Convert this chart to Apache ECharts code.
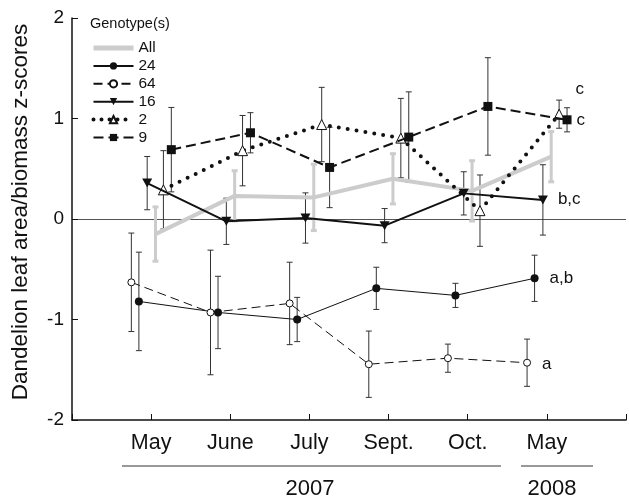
<!DOCTYPE html>
<html>
<head>
<meta charset="utf-8">
<script src="https://cdn.jsdelivr.net/npm/echarts@6/dist/echarts.min.js"></script>
<style>
html,body{margin:0;padding:0;background:#fff;}
#chart{width:629px;height:502px;}
</style>
</head>
<body>
<div id="chart"></div>
<script>
var months = ['May', 'June', 'July', 'Sept.', 'Oct.', 'May'];
var yTicks = [-2, -1, 0, 1, 2];

// means and standard errors, one value per sampling date
var allMean = [-0.15, 0.23, 0.215, 0.40, 0.28, 0.62];
var allErr  = [0.27, 0.25, 0.33, 0.25, 0.30, 0.25];
var g24Mean = [-0.82, -0.93, -1.0, -0.69, -0.76, -0.59];
var g24Err  = [0.49, 0.36, 0.22, 0.21, 0.12, 0.23];
var g64Mean = [-0.63, -0.93, -0.84, -1.445, -1.385, -1.43];
var g64Err  = [0.49, 0.62, 0.41, 0.33, 0.14, 0.235];
var g16Mean = [0.357, -0.023, 0.01, -0.066, 0.255, 0.19];
var g16Err  = [0.265, 0.23, 0.25, 0.17, 0.215, 0.35];
var g2Mean  = [0.29, 0.68, 0.94, 0.805, 0.083, 1.043];
var g2Err   = [0.39, 0.35, 0.37, 0.395, 0.355, 0.14];
var g9Mean  = [0.69, 0.858, 0.513, 0.815, 1.12, 0.987];
var g9Err   = [0.42, 0.20, 0.40, 0.45, 0.485, 0.12];

// letters of significance groups at the last date
var groupLetters = {All: 'c', '24': 'a,b', '64': 'a', '16': 'b,c', '2': 'c', '9': 'c'};

var myChart = echarts.init(document.getElementById('chart'));
var FONT = 'Liberation Sans, Arial, Helvetica, sans-serif';

//点位置：月份序号 + 水平错开
function points(mean, shift, letter, lbl) {
	var arr = [];
	for (var i = 0; i < mean.length; i++) {
		var item = {value: [i + 1 + shift, mean[i]]};
		if (i == mean.length - 1 && letter) {
			item.label = {
				show: true,
				formatter: letter,
				position: 'right',
				distance: 0,
				offset: lbl,
				color: '#111',
				fontSize: 17,
				fontFamily: FONT
			};
		}
		arr.push(item);
	}
	return arr;
}

function bars(mean, err, shift) {
	var arr = [];
	for (var i = 0; i < mean.length; i++) {
		arr.push([i + 1 + shift, mean[i] - err[i], mean[i] + err[i]]);
	}
	return arr;
}

function errSeries(name, mean, err, shift, color, width, cap) {
	return {
		name: name,
		type: 'custom',
		silent: true,
		z: 1,
		encode: {x: 0, y: [1, 2]},
		data: bars(mean, err, shift),
		renderItem: function(params, api) {
			var lo = api.coord([api.value(0), api.value(1)]);
			var hi = api.coord([api.value(0), api.value(2)]);
			var st = {stroke: color, lineWidth: width};
			return {
				type: 'group',
				children: [
					{type: 'line', shape: {x1: lo[0], y1: lo[1], x2: hi[0], y2: hi[1]}, style: st},
					{type: 'line', shape: {x1: lo[0] - cap, y1: lo[1], x2: lo[0] + cap, y2: lo[1]}, style: st},
					{type: 'line', shape: {x1: hi[0] - cap, y1: hi[1], x2: hi[0] + cap, y2: hi[1]}, style: st}
				]
			};
		}
	};
}

var downTri = 'path://M0,0 L10,0 L5,9 Z';

var option = {
	animation: false,
	backgroundColor: '#fff',
	textStyle: {fontFamily: FONT},
	title: {
		text: 'Genotype(s)',
		left: 85,
		top: 11,
		textStyle: {fontSize: 14.5, fontWeight: 'normal', color: '#111', fontFamily: FONT}
	},
	legend: {
		data: [
			{name: 'All', itemStyle: {opacity: 0}, lineStyle: {width: 5}},
			'24', '64', '16',
			{name: '2', lineStyle: {width: 4, type: [0, 8], cap: 'round'}},
			'9'
		],
		orient: 'vertical',
		left: 86,
		top: 35,
		itemWidth: 40,
		itemHeight: 9,
		itemGap: 1.9,
		textStyle: {fontSize: 15.5, color: '#111', fontFamily: FONT},
		selectedMode: false
	},
	grid: {left: 72, right: -3, top: 18, bottom: 82},
	xAxis: {
		type: 'value',
		min: 0,
		max: 7,
		interval: 1,
		splitLine: {show: false},
		axisLine: {onZero: false, lineStyle: {color: '#111', width: 1.5}},
		axisTick: {inside: true, length: 6, lineStyle: {color: '#111'}},
		axisLabel: {
			fontSize: 21.5,
			color: '#111',
			margin: 12,
			fontFamily: FONT,
			formatter: function(v) {
				return months[v - 1] || '';
			}
		}
	},
	yAxis: [
		{
			type: 'value',
			min: yTicks[0],
			max: yTicks[yTicks.length - 1],
			interval: 1,
			name: 'Dandelion leaf area/biomass z-scores',
			nameLocation: 'middle',
			nameGap: 40,
			nameTextStyle: {fontSize: 22.5, color: '#111', fontFamily: FONT, padding: [0, 0, 0, 14]},
			splitLine: {show: false},
			axisLine: {show: true, onZero: false, lineStyle: {color: '#111', width: 1.5}},
			axisTick: {show: true, inside: true, length: 6, lineStyle: {color: '#111'}},
			axisLabel: {fontSize: 19, color: '#111', margin: 8, fontFamily: FONT}
		},
		{
			// 只用来画 0 线
			type: 'value',
			position: 'left',
			min: yTicks[0],
			max: yTicks[yTicks.length - 1],
			interval: 2,
			axisLine: {show: false},
			axisTick: {show: false},
			axisLabel: {show: false},
			splitLine: {show: true, lineStyle: {color: ['transparent', '#555', 'transparent'], width: 1}}
		}
	],
	series: [
		errSeries('All-err', allMean, allErr, 0.055, '#cccccc', 3, 3),
		{
			name: 'All',
			type: 'line',
			z: 2,
			symbol: 'none',
			data: points(allMean, 0.055, groupLetters.All, [14, 2]),
			lineStyle: {color: '#cccccc', width: 4},
			itemStyle: {color: '#cccccc'}
		},
		errSeries('24-err', g24Mean, g24Err, -0.155, '#333', 1, 3),
		errSeries('64-err', g64Mean, g64Err, -0.25, '#333', 1, 3),
		errSeries('16-err', g16Mean, g16Err, -0.05, '#333', 1, 3),
		errSeries('2-err', g2Mean, g2Err, 0.155, '#333', 1, 3),
		errSeries('9-err', g9Mean, g9Err, 0.255, '#333', 1, 3),
		{
			name: '24',
			type: 'line',
			z: 4,
			symbol: 'circle',
			symbolSize: 8,
			data: points(g24Mean, -0.155, groupLetters['24'], [11, 0]),
			lineStyle: {color: '#111', width: 1},
			itemStyle: {color: '#111'}
		},
		{
			name: '64',
			type: 'line',
			z: 4,
			symbol: 'circle',
			symbolSize: 7,
			data: points(g64Mean, -0.25, groupLetters['64'], [11, 2]),
			lineStyle: {color: '#111', width: 1, type: [9, 5]},
			itemStyle: {color: '#fff', borderColor: '#111', borderWidth: 1}
		},
		{
			name: '16',
			type: 'line',
			z: 4,
			symbol: downTri,
			symbolSize: [10, 9],
			data: points(g16Mean, -0.05, groupLetters['16'], [10, -1]),
			lineStyle: {color: '#111', width: 2},
			itemStyle: {color: '#111'}
		},
		{
			name: '2',
			type: 'line',
			z: 3,
			symbol: 'triangle',
			symbolSize: 10,
			data: points(g2Mean, 0.155, groupLetters['2'], [11, -25]),
			lineStyle: {color: '#111', width: 4, type: [0, 9], cap: 'round'},
			itemStyle: {color: '#fff', borderColor: '#111', borderWidth: 1}
		},
		{
			name: '9',
			type: 'line',
			z: 4,
			symbol: 'rect',
			symbolSize: 9,
			data: points(g9Mean, 0.255, groupLetters['9'], [5, 1]),
			lineStyle: {color: '#111', width: 2, type: [10, 5]},
			itemStyle: {color: '#111'}
		}
	],
	graphic: [
		{type: 'line', shape: {x1: 122, y1: 466, x2: 501, y2: 466}, style: {stroke: '#333', lineWidth: 1}},
		{type: 'line', shape: {x1: 521, y1: 466, x2: 593, y2: 466}, style: {stroke: '#333', lineWidth: 1}},
		{type: 'text', style: {x: 310, y: 489, text: '2007', textAlign: 'center', textVerticalAlign: 'middle', fontSize: 22, fill: '#111', fontFamily: FONT}},
		{type: 'text', style: {x: 552, y: 489, text: '2008', textAlign: 'center', textVerticalAlign: 'middle', fontSize: 22, fill: '#111', fontFamily: FONT}}
	]
};

myChart.setOption(option);
</script>
</body>
</html>
